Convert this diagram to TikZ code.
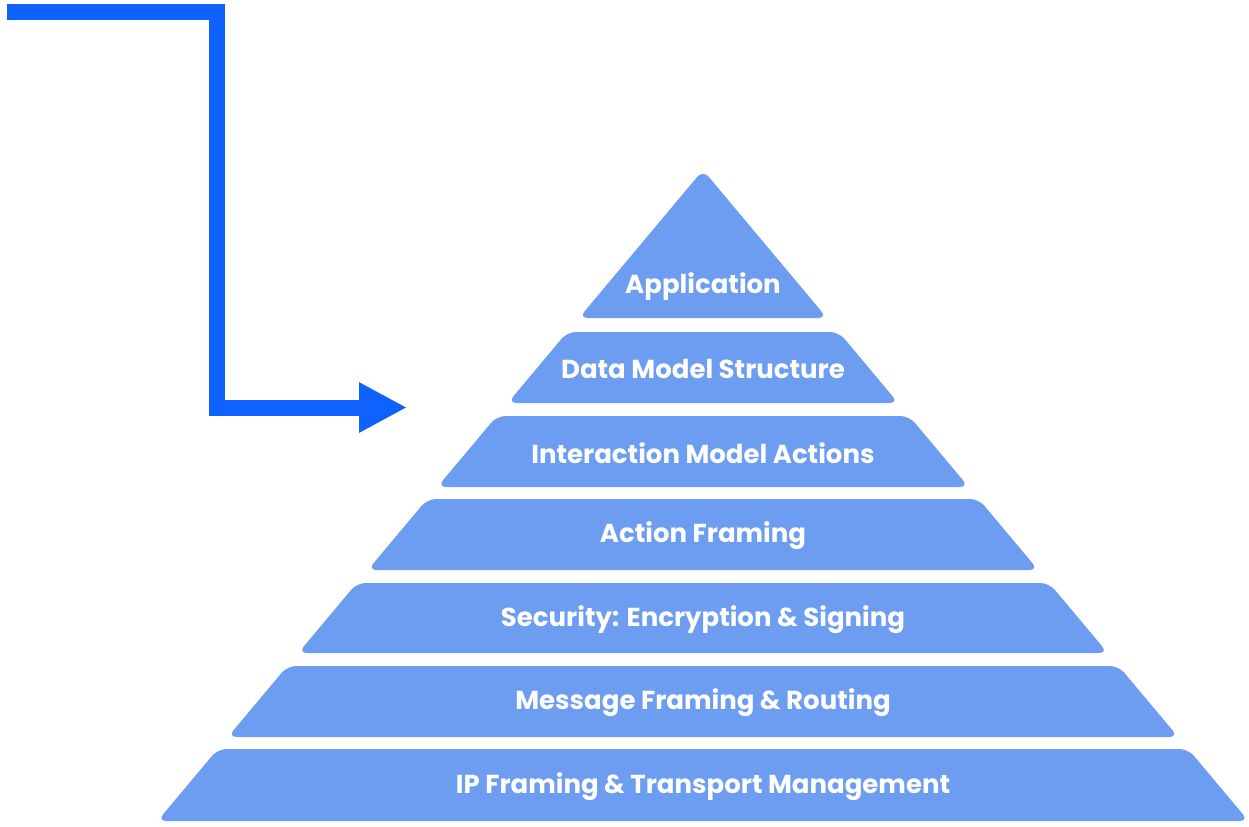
\documentclass[tikz,border=0pt]{standalone}
\usepackage{fontspec}
\setmainfont{Poppins}
\usetikzlibrary{arrows.meta}
\definecolor{layerblue}{RGB}{108,157,240}
\definecolor{arrowblue}{RGB}{16,98,255}

\begin{document}
\begin{tikzpicture}[
    x=0.02cm, y=-0.02cm,
    layer/.style={fill=layerblue, rounded corners=5pt},
    layerlabel/.style={text=white, inner sep=0pt,
        font=\bfseries\fontsize{14.8}{17}\selectfont},
    flowarrow/.style={draw=arrowblue, line width=0.32cm,
        -{Triangle[length=0.96cm,width=0.94cm]}}
    ]
    \useasboundingbox (0,0) rectangle (1249,826);

    % top of the pyramid
    \fill[layer] (703,170) -- ({703+0.838*148},318) -- ({703-0.838*148},318) -- cycle;
    \node[layerlabel] (app) at (703,287) {Application};

    % stacked bands, top to bottom
    \foreach \t/\b/\name/\txt in {
        332/403/dms/Data Model Structure,
        416/487/ima/Interaction Model Actions,
        499/570/af/Action Framing,
        583/653/sec/Security: Encryption \& Signing,
        666/737/mfr/Message Framing \& Routing,
        749/821/ipt/IP Framing \& Transport Management}{
        \fill[layer] ({703-0.838*(\t-170)},\t) -- ({703+0.838*(\t-170)},\t)
            -- ({703+0.838*(\b-170)},\b) -- ({703-0.838*(\b-170)},\b) -- cycle;
        \node[layerlabel] (\name) at (703,{(\t+\b)/2+1.5}) {\txt};
    }

    % pointer into the stack
    \coordinate (start) at (7,12);
    \coordinate (target) at (407,407.5);
    \draw[flowarrow] (start) -| (217,407.5) -- (target);
\end{tikzpicture}
\end{document}
